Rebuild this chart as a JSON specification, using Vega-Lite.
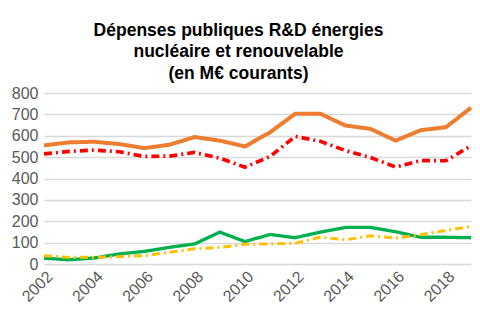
{
  "$schema": "https://vega.github.io/schema/vega-lite/v6.json",
  "width": 427,
  "height": 171,
  "autosize": {"type": "none"},
  "padding": {"left": 44, "top": 93, "right": 9, "bottom": 62},
  "background": "white",
  "title": {
    "text": ["Dépenses publiques R&D énergies", "nucléaire et renouvelable", "(en M€ courants)"],
    "font": "Liberation Sans",
    "fontSize": 17.5,
    "fontWeight": "bold",
    "color": "#000000",
    "anchor": "middle",
    "dx": -19,
    "offset": 3,
    "lineHeight": 21.5
  },
  "config": {
    "view": {"stroke": null},
    "axis": {"labelFont": "Liberation Sans", "labelColor": "#595959", "labelFontSize": 16}
  },
  "data": {
    "values": [
      {"year": 2002, "s": "A", "v": 555}, {"year": 2003, "s": "A", "v": 569}, {"year": 2004, "s": "A", "v": 572}, {"year": 2005, "s": "A", "v": 561}, {"year": 2006, "s": "A", "v": 542}, {"year": 2007, "s": "A", "v": 558}, {"year": 2008, "s": "A", "v": 594}, {"year": 2009, "s": "A", "v": 577}, {"year": 2010, "s": "A", "v": 550}, {"year": 2011, "s": "A", "v": 616}, {"year": 2012, "s": "A", "v": 703}, {"year": 2013, "s": "A", "v": 703}, {"year": 2014, "s": "A", "v": 648}, {"year": 2015, "s": "A", "v": 632}, {"year": 2016, "s": "A", "v": 577}, {"year": 2017, "s": "A", "v": 626}, {"year": 2018, "s": "A", "v": 640}, {"year": 2019, "s": "A", "v": 731},
      {"year": 2002, "s": "B", "v": 515}, {"year": 2003, "s": "B", "v": 527}, {"year": 2004, "s": "B", "v": 533}, {"year": 2005, "s": "B", "v": 525}, {"year": 2006, "s": "B", "v": 503}, {"year": 2007, "s": "B", "v": 505}, {"year": 2008, "s": "B", "v": 522}, {"year": 2009, "s": "B", "v": 495}, {"year": 2010, "s": "B", "v": 453}, {"year": 2011, "s": "B", "v": 503}, {"year": 2012, "s": "B", "v": 597}, {"year": 2013, "s": "B", "v": 574}, {"year": 2014, "s": "B", "v": 531}, {"year": 2015, "s": "B", "v": 498}, {"year": 2016, "s": "B", "v": 454}, {"year": 2017, "s": "B", "v": 484}, {"year": 2018, "s": "B", "v": 483}, {"year": 2019, "s": "B", "v": 553},
      {"year": 2002, "s": "C", "v": 27}, {"year": 2003, "s": "C", "v": 20}, {"year": 2004, "s": "C", "v": 28}, {"year": 2005, "s": "C", "v": 47}, {"year": 2006, "s": "C", "v": 59}, {"year": 2007, "s": "C", "v": 78}, {"year": 2008, "s": "C", "v": 94}, {"year": 2009, "s": "C", "v": 149}, {"year": 2010, "s": "C", "v": 105}, {"year": 2011, "s": "C", "v": 138}, {"year": 2012, "s": "C", "v": 123}, {"year": 2013, "s": "C", "v": 149}, {"year": 2014, "s": "C", "v": 171}, {"year": 2015, "s": "C", "v": 171}, {"year": 2016, "s": "C", "v": 151}, {"year": 2017, "s": "C", "v": 125}, {"year": 2018, "s": "C", "v": 125}, {"year": 2019, "s": "C", "v": 123},
      {"year": 2002, "s": "D", "v": 39}, {"year": 2003, "s": "D", "v": 31}, {"year": 2004, "s": "D", "v": 31}, {"year": 2005, "s": "D", "v": 34}, {"year": 2006, "s": "D", "v": 39}, {"year": 2007, "s": "D", "v": 55}, {"year": 2008, "s": "D", "v": 71}, {"year": 2009, "s": "D", "v": 78}, {"year": 2010, "s": "D", "v": 92}, {"year": 2011, "s": "D", "v": 94}, {"year": 2012, "s": "D", "v": 97}, {"year": 2013, "s": "D", "v": 126}, {"year": 2014, "s": "D", "v": 113}, {"year": 2015, "s": "D", "v": 132}, {"year": 2016, "s": "D", "v": 121}, {"year": 2017, "s": "D", "v": 137}, {"year": 2018, "s": "D", "v": 157}, {"year": 2019, "s": "D", "v": 176}
    ]
  },
  "mark": {"type": "line", "strokeCap": "butt"},
  "encoding": {
    "x": {
      "field": "year", "type": "quantitative",
      "scale": {"domain": [2002, 2019], "nice": false, "zero": false},
      "axis": {"values": [2002, 2004, 2006, 2008, 2010, 2012, 2014, 2016, 2018], "format": "d", "labelAngle": -45, "grid": false, "domain": false, "ticks": false, "title": null, "labelPadding": 4, "labelFlush": false, "labelOverlap": false}
    },
    "y": {
      "field": "v", "type": "quantitative",
      "scale": {"domain": [0, 800], "nice": false},
      "axis": {"values": [0, 100, 200, 300, 400, 500, 600, 700, 800], "grid": true, "gridColor": "#d9d9d9", "gridWidth": 1.5, "domain": false, "ticks": false, "title": null, "labelPadding": 6}
    },
    "color": {"field": "s", "type": "nominal", "scale": {"domain": ["A", "B", "C", "D"], "range": ["#ED7D31", "#FF0000", "#00B050", "#FFC000"]}, "legend": null},
    "strokeDash": {"field": "s", "type": "nominal", "scale": {"domain": ["A", "B", "C", "D"], "range": [[1, 0], [8, 4, 2, 4], [1, 0], [8, 4, 2, 4]]}, "legend": null},
    "strokeWidth": {"field": "s", "type": "nominal", "scale": {"domain": ["A", "B", "C", "D"], "range": [4, 3, 4, 3]}, "legend": null}
  }
}
